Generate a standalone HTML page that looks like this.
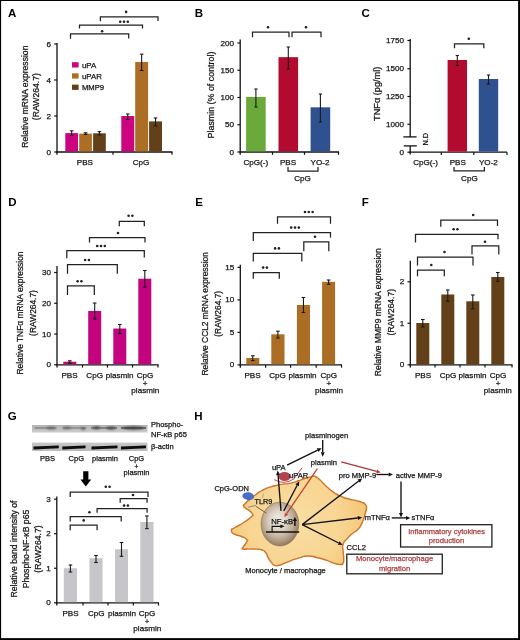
<!DOCTYPE html>
<html><head><meta charset="utf-8"><title>Figure</title>
<style>
html,body{margin:0;padding:0;background:#fff;}
svg{display:block;font-family:"Liberation Sans",sans-serif;will-change:transform;}
</style></head><body>
<svg width="520" height="640" viewBox="0 0 520 640">
<rect x="0" y="0" width="520" height="640" fill="#fff"/>
<text x="8.0" y="16.8" font-size="11.5" text-anchor="start" font-weight="bold" fill="#000" >A</text>
<line x1="57" y1="43" x2="57" y2="154.8" stroke="#111" stroke-width="1.3" />
<line x1="54.2" y1="152.0" x2="57" y2="152.0" stroke="#111" stroke-width="1.2" />
<text x="50.9" y="154.55" font-size="8.1" text-anchor="end" font-weight="normal" fill="#141414" stroke="#141414" stroke-width="0.25" >0</text>
<line x1="54.2" y1="116.0" x2="57" y2="116.0" stroke="#111" stroke-width="1.2" />
<text x="50.9" y="118.55" font-size="8.1" text-anchor="end" font-weight="normal" fill="#141414" stroke="#141414" stroke-width="0.25" >2</text>
<line x1="54.2" y1="80.0" x2="57" y2="80.0" stroke="#111" stroke-width="1.2" />
<text x="50.9" y="82.55" font-size="8.1" text-anchor="end" font-weight="normal" fill="#141414" stroke="#141414" stroke-width="0.25" >4</text>
<line x1="54.2" y1="44.0" x2="57" y2="44.0" stroke="#111" stroke-width="1.2" />
<text x="50.9" y="46.55" font-size="8.1" text-anchor="end" font-weight="normal" fill="#141414" stroke="#141414" stroke-width="0.25" >6</text>
<line x1="56.4" y1="152.0" x2="172.5" y2="152.0" stroke="#111" stroke-width="1.3" />
<line x1="113" y1="152.0" x2="113" y2="154.8" stroke="#111" stroke-width="1.2" />
<line x1="172" y1="152.0" x2="172" y2="154.8" stroke="#111" stroke-width="1.2" />
<text x="28.221999999999998" y="96.7" font-size="8.6" text-anchor="middle" font-weight="normal" fill="#141414" stroke="#141414" stroke-width="0.25" transform="rotate(-90 28.221999999999998 96.7)" >Relative mRNA expression</text>
<text x="39.422000000000004" y="96.7" font-size="8.6" text-anchor="middle" font-weight="normal" fill="#141414" stroke="#141414" stroke-width="0.25" transform="rotate(-90 39.422000000000004 96.7)" >(RAW264.7)</text>
<rect x="65.3" y="133.1" width="12.7" height="18.30000000000001" fill="#cd047f" />
<rect x="79.2" y="133.64" width="12.7" height="17.76000000000002" fill="#ac6e25" />
<rect x="93.1" y="133.28" width="12.7" height="18.120000000000005" fill="#644019" />
<rect x="121.3" y="116.0" width="12.9" height="35.400000000000006" fill="#cd047f" />
<rect x="135.2" y="62.0" width="12.9" height="89.4" fill="#ac6e25" />
<rect x="149.1" y="121.4" width="12.9" height="30.0" fill="#644019" />
<line x1="71.65" y1="130.8" x2="71.65" y2="135.5" stroke="#1a1a1a" stroke-width="1.1" />
<line x1="69.85000000000001" y1="130.8" x2="73.45" y2="130.8" stroke="#1a1a1a" stroke-width="1.1" />
<line x1="69.85000000000001" y1="135.5" x2="73.45" y2="135.5" stroke="#1a1a1a" stroke-width="1.1" />
<line x1="85.55" y1="132.8" x2="85.55" y2="134.4" stroke="#1a1a1a" stroke-width="1.1" />
<line x1="83.75" y1="132.8" x2="87.35" y2="132.8" stroke="#1a1a1a" stroke-width="1.1" />
<line x1="83.75" y1="134.4" x2="87.35" y2="134.4" stroke="#1a1a1a" stroke-width="1.1" />
<line x1="99.45" y1="131.6" x2="99.45" y2="134.9" stroke="#1a1a1a" stroke-width="1.1" />
<line x1="97.65" y1="131.6" x2="101.25" y2="131.6" stroke="#1a1a1a" stroke-width="1.1" />
<line x1="97.65" y1="134.9" x2="101.25" y2="134.9" stroke="#1a1a1a" stroke-width="1.1" />
<line x1="127.75" y1="114.0" x2="127.75" y2="119.5" stroke="#1a1a1a" stroke-width="1.1" />
<line x1="125.95" y1="114.0" x2="129.55" y2="114.0" stroke="#1a1a1a" stroke-width="1.1" />
<line x1="125.95" y1="119.5" x2="129.55" y2="119.5" stroke="#1a1a1a" stroke-width="1.1" />
<line x1="141.65" y1="54.2" x2="141.65" y2="70.5" stroke="#1a1a1a" stroke-width="1.1" />
<line x1="139.85" y1="54.2" x2="143.45000000000002" y2="54.2" stroke="#1a1a1a" stroke-width="1.1" />
<line x1="139.85" y1="70.5" x2="143.45000000000002" y2="70.5" stroke="#1a1a1a" stroke-width="1.1" />
<line x1="155.55" y1="118.0" x2="155.55" y2="126.0" stroke="#1a1a1a" stroke-width="1.1" />
<line x1="153.75" y1="118.0" x2="157.35000000000002" y2="118.0" stroke="#1a1a1a" stroke-width="1.1" />
<line x1="153.75" y1="126.0" x2="157.35000000000002" y2="126.0" stroke="#1a1a1a" stroke-width="1.1" />
<rect x="72.0" y="62.2" width="6.6" height="5.3" fill="#cd047f" />
<rect x="72.0" y="73.3" width="6.6" height="5.3" fill="#ac6e25" />
<rect x="72.0" y="84.6" width="6.6" height="5.3" fill="#644019" />
<text x="81.9" y="67.6" font-size="7.9" text-anchor="start" font-weight="normal" fill="#141414" stroke="#141414" stroke-width="0.25" >uPA</text>
<text x="81.9" y="78.7" font-size="7.9" text-anchor="start" font-weight="normal" fill="#141414" stroke="#141414" stroke-width="0.25" >uPAR</text>
<text x="81.9" y="89.9" font-size="7.7" text-anchor="start" font-weight="normal" fill="#141414" stroke="#141414" stroke-width="0.25" >MMP9</text>
<text x="84.9" y="165.4" font-size="8.1" text-anchor="middle" font-weight="normal" fill="#141414" stroke="#141414" stroke-width="0.25" >PBS</text>
<text x="141.0" y="165.4" font-size="8.1" text-anchor="middle" font-weight="normal" fill="#141414" stroke="#141414" stroke-width="0.25" >CpG</text>
<path d="M70.5 38.7V33.8H128.7V38.5" fill="none" stroke="#222" stroke-width="1.25"/>
<circle cx="102.10" cy="31.2" r="1.3" fill="#222"/>
<path d="M79.5 28.6V25.2H142.5V28.6" fill="none" stroke="#222" stroke-width="1.25"/>
<circle cx="120.20" cy="21.7" r="1.3" fill="#222"/>
<circle cx="124.00" cy="21.7" r="1.3" fill="#222"/>
<circle cx="127.80" cy="21.7" r="1.3" fill="#222"/>
<path d="M100.4 21.2V16.8H158.0V21.0" fill="none" stroke="#222" stroke-width="1.25"/>
<circle cx="126.10" cy="11.9" r="1.3" fill="#222"/>
<text x="194.8" y="16.8" font-size="11.5" text-anchor="start" font-weight="bold" fill="#000" >B</text>
<line x1="240.2" y1="39.5" x2="240.2" y2="154.8" stroke="#111" stroke-width="1.3" />
<line x1="237.39999999999998" y1="152.0" x2="240.2" y2="152.0" stroke="#111" stroke-width="1.2" />
<text x="234.1" y="154.55" font-size="8.1" text-anchor="end" font-weight="normal" fill="#141414" stroke="#141414" stroke-width="0.25" >0</text>
<line x1="237.39999999999998" y1="124.75" x2="240.2" y2="124.75" stroke="#111" stroke-width="1.2" />
<text x="234.1" y="127.3" font-size="8.1" text-anchor="end" font-weight="normal" fill="#141414" stroke="#141414" stroke-width="0.25" >50</text>
<line x1="237.39999999999998" y1="97.5" x2="240.2" y2="97.5" stroke="#111" stroke-width="1.2" />
<text x="234.1" y="100.05" font-size="8.1" text-anchor="end" font-weight="normal" fill="#141414" stroke="#141414" stroke-width="0.25" >100</text>
<line x1="237.39999999999998" y1="70.25" x2="240.2" y2="70.25" stroke="#111" stroke-width="1.2" />
<text x="234.1" y="72.8" font-size="8.1" text-anchor="end" font-weight="normal" fill="#141414" stroke="#141414" stroke-width="0.25" >150</text>
<line x1="237.39999999999998" y1="42.999999999999986" x2="240.2" y2="42.999999999999986" stroke="#111" stroke-width="1.2" />
<text x="234.1" y="45.54999999999998" font-size="8.1" text-anchor="end" font-weight="normal" fill="#141414" stroke="#141414" stroke-width="0.25" >200</text>
<line x1="239.6" y1="152.0" x2="339" y2="152.0" stroke="#111" stroke-width="1.3" />
<line x1="272.5" y1="152.0" x2="272.5" y2="154.8" stroke="#111" stroke-width="1.2" />
<line x1="304.5" y1="152.0" x2="304.5" y2="154.8" stroke="#111" stroke-width="1.2" />
<line x1="338.5" y1="152.0" x2="338.5" y2="154.8" stroke="#111" stroke-width="1.2" />
<text x="214.0" y="95.0" font-size="8.9" text-anchor="middle" font-weight="normal" fill="#141414" stroke="#141414" stroke-width="0.25" transform="rotate(-90 214.0 95.0)" >Plasmin (% of control)</text>
<rect x="246.1" y="96.955" width="19.6" height="54.44500000000001" fill="#6aaa3a" />
<rect x="278.5" y="57.16999999999999" width="19.6" height="94.23000000000002" fill="#b30a30" />
<rect x="310.6" y="107.31" width="19.6" height="44.09" fill="#2f5190" />
<line x1="255.9" y1="89.0" x2="255.9" y2="107.0" stroke="#1a1a1a" stroke-width="1.1" />
<line x1="254.3" y1="89.0" x2="257.5" y2="89.0" stroke="#1a1a1a" stroke-width="1.1" />
<line x1="254.3" y1="107.0" x2="257.5" y2="107.0" stroke="#1a1a1a" stroke-width="1.1" />
<line x1="288.3" y1="47.0" x2="288.3" y2="69.0" stroke="#1a1a1a" stroke-width="1.1" />
<line x1="286.7" y1="47.0" x2="289.90000000000003" y2="47.0" stroke="#1a1a1a" stroke-width="1.1" />
<line x1="286.7" y1="69.0" x2="289.90000000000003" y2="69.0" stroke="#1a1a1a" stroke-width="1.1" />
<line x1="320.4" y1="94.0" x2="320.4" y2="122.0" stroke="#1a1a1a" stroke-width="1.1" />
<line x1="318.79999999999995" y1="94.0" x2="322.0" y2="94.0" stroke="#1a1a1a" stroke-width="1.1" />
<line x1="318.79999999999995" y1="122.0" x2="322.0" y2="122.0" stroke="#1a1a1a" stroke-width="1.1" />
<path d="M252.5 37.3V32.0H289.0V37.3" fill="none" stroke="#222" stroke-width="1.25"/>
<circle cx="268.00" cy="27.2" r="1.3" fill="#222"/>
<path d="M292.0 37.3V32.0H321.0V37.3" fill="none" stroke="#222" stroke-width="1.25"/>
<circle cx="306.00" cy="27.2" r="1.3" fill="#222"/>
<text x="255.8" y="164.7" font-size="8.1" text-anchor="middle" font-weight="normal" fill="#141414" stroke="#141414" stroke-width="0.25" >CpG(-)</text>
<text x="288.0" y="164.7" font-size="8.1" text-anchor="middle" font-weight="normal" fill="#141414" stroke="#141414" stroke-width="0.25" >PBS</text>
<text x="320.0" y="164.7" font-size="8.1" text-anchor="middle" font-weight="normal" fill="#141414" stroke="#141414" stroke-width="0.25" >YO-2</text>
<path d="M288 167V171H318V167" fill="none" stroke="#222" stroke-width="1.25"/>
<text x="302.5" y="180.9" font-size="8.1" text-anchor="middle" font-weight="normal" fill="#141414" stroke="#141414" stroke-width="0.25" >CpG</text>
<text x="361.5" y="16.8" font-size="11.5" text-anchor="start" font-weight="bold" fill="#000" >C</text>
<line x1="410.2" y1="39.0" x2="410.2" y2="136.9" stroke="#111" stroke-width="1.3" />
<line x1="410.2" y1="145.9" x2="410.2" y2="154.5" stroke="#111" stroke-width="1.3" />
<line x1="403.4" y1="136.9" x2="416.5" y2="136.9" stroke="#111" stroke-width="1.3" />
<line x1="403.8" y1="145.9" x2="416.8" y2="145.9" stroke="#111" stroke-width="1.3" />
<line x1="407.4" y1="40.5" x2="410.2" y2="40.5" stroke="#111" stroke-width="1.2" />
<text x="404.1" y="43.0" font-size="8.1" text-anchor="end" font-weight="normal" fill="#141414" stroke="#141414" stroke-width="0.25" >1750</text>
<line x1="407.4" y1="68.75" x2="410.2" y2="68.75" stroke="#111" stroke-width="1.2" />
<text x="404.1" y="71.25" font-size="8.1" text-anchor="end" font-weight="normal" fill="#141414" stroke="#141414" stroke-width="0.25" >1500</text>
<line x1="407.4" y1="96.5" x2="410.2" y2="96.5" stroke="#111" stroke-width="1.2" />
<text x="404.1" y="99.0" font-size="8.1" text-anchor="end" font-weight="normal" fill="#141414" stroke="#141414" stroke-width="0.25" >1250</text>
<line x1="407.4" y1="124.25" x2="410.2" y2="124.25" stroke="#111" stroke-width="1.2" />
<text x="404.1" y="126.75" font-size="8.1" text-anchor="end" font-weight="normal" fill="#141414" stroke="#141414" stroke-width="0.25" >1000</text>
<line x1="407.4" y1="152.2" x2="410.2" y2="152.2" stroke="#111" stroke-width="1.2" />
<text x="404.1" y="154.7" font-size="8.1" text-anchor="end" font-weight="normal" fill="#141414" stroke="#141414" stroke-width="0.25" >0</text>
<line x1="409.59999999999997" y1="152.2" x2="507" y2="152.2" stroke="#111" stroke-width="1.3" />
<line x1="441.3" y1="152.2" x2="441.3" y2="155.0" stroke="#111" stroke-width="1.2" />
<line x1="473.8" y1="152.2" x2="473.8" y2="155.0" stroke="#111" stroke-width="1.2" />
<line x1="507" y1="152.2" x2="507" y2="155.0" stroke="#111" stroke-width="1.2" />
<text x="380.1" y="93.8" font-size="9.2" text-anchor="middle" font-weight="normal" fill="#141414" stroke="#141414" stroke-width="0.25" transform="rotate(-90 380.1 93.8)" >TNFα (pg/ml)</text>
<text x="428.0" y="139.3" font-size="7.3" text-anchor="middle" font-weight="normal" fill="#141414" stroke="#141414" stroke-width="0.25" transform="rotate(-90 428.0 139.3)" >N.D</text>
<rect x="447.6" y="60.0" width="19.4" height="91.6" fill="#b30a30" />
<rect x="478.8" y="79.0" width="19.4" height="72.6" fill="#2f5190" />
<line x1="457.3" y1="55.5" x2="457.3" y2="65.5" stroke="#1a1a1a" stroke-width="1.1" />
<line x1="455.7" y1="55.5" x2="458.90000000000003" y2="55.5" stroke="#1a1a1a" stroke-width="1.1" />
<line x1="455.7" y1="65.5" x2="458.90000000000003" y2="65.5" stroke="#1a1a1a" stroke-width="1.1" />
<line x1="488.5" y1="75.0" x2="488.5" y2="84.0" stroke="#1a1a1a" stroke-width="1.1" />
<line x1="486.9" y1="75.0" x2="490.1" y2="75.0" stroke="#1a1a1a" stroke-width="1.1" />
<line x1="486.9" y1="84.0" x2="490.1" y2="84.0" stroke="#1a1a1a" stroke-width="1.1" />
<path d="M454.5 48.2V43.8H483.8V48.2" fill="none" stroke="#222" stroke-width="1.25"/>
<circle cx="468.80" cy="38.8" r="1.3" fill="#222"/>
<text x="425.6" y="164.9" font-size="8.1" text-anchor="middle" font-weight="normal" fill="#141414" stroke="#141414" stroke-width="0.25" >CpG(-)</text>
<text x="457.8" y="164.9" font-size="8.1" text-anchor="middle" font-weight="normal" fill="#141414" stroke="#141414" stroke-width="0.25" >PBS</text>
<text x="488.4" y="164.9" font-size="8.1" text-anchor="middle" font-weight="normal" fill="#141414" stroke="#141414" stroke-width="0.25" >YO-2</text>
<path d="M454 167V170.8H484.4V167" fill="none" stroke="#222" stroke-width="1.25"/>
<text x="469.4" y="180.9" font-size="8.1" text-anchor="middle" font-weight="normal" fill="#141414" stroke="#141414" stroke-width="0.25" >CpG</text>
<text x="8.3" y="205.8" font-size="11.5" text-anchor="start" font-weight="bold" fill="#000" >D</text>
<line x1="57" y1="266.0" x2="57" y2="367.6" stroke="#111" stroke-width="1.3" />
<line x1="54.2" y1="364.8" x2="57" y2="364.8" stroke="#111" stroke-width="1.2" />
<text x="50.9" y="367.35" font-size="8.1" text-anchor="end" font-weight="normal" fill="#141414" stroke="#141414" stroke-width="0.25" >0</text>
<line x1="54.2" y1="334.05" x2="57" y2="334.05" stroke="#111" stroke-width="1.2" />
<text x="50.9" y="336.6" font-size="8.1" text-anchor="end" font-weight="normal" fill="#141414" stroke="#141414" stroke-width="0.25" >10</text>
<line x1="54.2" y1="303.3" x2="57" y2="303.3" stroke="#111" stroke-width="1.2" />
<text x="50.9" y="305.85" font-size="8.1" text-anchor="end" font-weight="normal" fill="#141414" stroke="#141414" stroke-width="0.25" >20</text>
<line x1="54.2" y1="272.55" x2="57" y2="272.55" stroke="#111" stroke-width="1.2" />
<text x="50.9" y="275.1" font-size="8.1" text-anchor="end" font-weight="normal" fill="#141414" stroke="#141414" stroke-width="0.25" >30</text>
<line x1="56.4" y1="364.8" x2="158.5" y2="364.8" stroke="#111" stroke-width="1.3" />
<line x1="82.5" y1="364.8" x2="82.5" y2="367.6" stroke="#111" stroke-width="1.2" />
<line x1="107.5" y1="364.8" x2="107.5" y2="367.6" stroke="#111" stroke-width="1.2" />
<line x1="132.5" y1="364.8" x2="132.5" y2="367.6" stroke="#111" stroke-width="1.2" />
<line x1="158" y1="364.8" x2="158" y2="367.6" stroke="#111" stroke-width="1.2" />
<text x="23.168" y="313.0" font-size="8.4" text-anchor="middle" font-weight="normal" fill="#141414" stroke="#141414" stroke-width="0.25" transform="rotate(-90 23.168 313.0)" >Relative TNFα mRNA expression</text>
<text x="35.868" y="313.0" font-size="8.4" text-anchor="middle" font-weight="normal" fill="#141414" stroke="#141414" stroke-width="0.25" transform="rotate(-90 35.868 313.0)" >(RAW264.7)</text>
<rect x="63.3" y="361.725" width="13.0" height="2.474999999999966" fill="#c4037e" />
<rect x="88.2" y="310.9875" width="13.0" height="53.21249999999998" fill="#c4037e" />
<rect x="113.3" y="328.515" width="13.0" height="35.685" fill="#c4037e" />
<rect x="138.3" y="278.7" width="13.0" height="85.5" fill="#c4037e" />
<line x1="69.8" y1="360.8" x2="69.8" y2="363.2" stroke="#1a1a1a" stroke-width="1.1" />
<line x1="68.0" y1="360.8" x2="71.6" y2="360.8" stroke="#1a1a1a" stroke-width="1.1" />
<line x1="68.0" y1="363.2" x2="71.6" y2="363.2" stroke="#1a1a1a" stroke-width="1.1" />
<line x1="94.7" y1="303.0" x2="94.7" y2="319.0" stroke="#1a1a1a" stroke-width="1.1" />
<line x1="92.9" y1="303.0" x2="96.5" y2="303.0" stroke="#1a1a1a" stroke-width="1.1" />
<line x1="92.9" y1="319.0" x2="96.5" y2="319.0" stroke="#1a1a1a" stroke-width="1.1" />
<line x1="119.8" y1="324.5" x2="119.8" y2="333.5" stroke="#1a1a1a" stroke-width="1.1" />
<line x1="118.0" y1="324.5" x2="121.6" y2="324.5" stroke="#1a1a1a" stroke-width="1.1" />
<line x1="118.0" y1="333.5" x2="121.6" y2="333.5" stroke="#1a1a1a" stroke-width="1.1" />
<line x1="144.8" y1="270.5" x2="144.8" y2="287.0" stroke="#1a1a1a" stroke-width="1.1" />
<line x1="143.0" y1="270.5" x2="146.60000000000002" y2="270.5" stroke="#1a1a1a" stroke-width="1.1" />
<line x1="143.0" y1="287.0" x2="146.60000000000002" y2="287.0" stroke="#1a1a1a" stroke-width="1.1" />
<text x="69.5" y="377.8" font-size="8.1" text-anchor="middle" font-weight="normal" fill="#141414" stroke="#141414" stroke-width="0.25" >PBS</text>
<text x="94.7" y="377.8" font-size="8.1" text-anchor="middle" font-weight="normal" fill="#141414" stroke="#141414" stroke-width="0.25" >CpG</text>
<text x="119.6" y="377.8" font-size="8.1" text-anchor="middle" font-weight="normal" fill="#141414" stroke="#141414" stroke-width="0.25" >plasmin</text>
<text x="145.0" y="377.8" font-size="8.1" text-anchor="middle" font-weight="normal" fill="#141414" stroke="#141414" stroke-width="0.25" >CpG</text>
<text x="145.0" y="386.4" font-size="8.1" text-anchor="middle" font-weight="normal" fill="#141414" stroke="#141414" stroke-width="0.25" >+</text>
<text x="145.3" y="392.8" font-size="8.1" text-anchor="middle" font-weight="normal" fill="#141414" stroke="#141414" stroke-width="0.25" >plasmin</text>
<path d="M67.5 295.0V285.8H94.3V295.0" fill="none" stroke="#222" stroke-width="1.25"/>
<circle cx="77.60" cy="281.2" r="1.3" fill="#222"/>
<circle cx="81.40" cy="281.2" r="1.3" fill="#222"/>
<path d="M67.5 273.8V264.5H117.3V273.8" fill="none" stroke="#222" stroke-width="1.25"/>
<circle cx="85.10" cy="260.0" r="1.3" fill="#222"/>
<circle cx="88.90" cy="260.0" r="1.3" fill="#222"/>
<path d="M66.8 258.2V250.5H144.3V257.6" fill="none" stroke="#222" stroke-width="1.25"/>
<circle cx="97.20" cy="246.0" r="1.3" fill="#222"/>
<circle cx="101.00" cy="246.0" r="1.3" fill="#222"/>
<circle cx="104.80" cy="246.0" r="1.3" fill="#222"/>
<path d="M89.5 242.6V237.5H145.0V242.6" fill="none" stroke="#222" stroke-width="1.25"/>
<circle cx="118.00" cy="233.0" r="1.3" fill="#222"/>
<path d="M119.3 226.3V221.3H144.3V226.3" fill="none" stroke="#222" stroke-width="1.25"/>
<circle cx="128.60" cy="215.8" r="1.3" fill="#222"/>
<circle cx="132.40" cy="215.8" r="1.3" fill="#222"/>
<text x="195.2" y="205.7" font-size="11.5" text-anchor="start" font-weight="bold" fill="#000" >E</text>
<line x1="240.3" y1="264.8" x2="240.3" y2="367.7" stroke="#111" stroke-width="1.3" />
<line x1="237.5" y1="364.9" x2="240.3" y2="364.9" stroke="#111" stroke-width="1.2" />
<text x="234.20000000000002" y="367.45" font-size="8.1" text-anchor="end" font-weight="normal" fill="#141414" stroke="#141414" stroke-width="0.25" >0</text>
<line x1="237.5" y1="332.4" x2="240.3" y2="332.4" stroke="#111" stroke-width="1.2" />
<text x="234.20000000000002" y="334.95" font-size="8.1" text-anchor="end" font-weight="normal" fill="#141414" stroke="#141414" stroke-width="0.25" >5</text>
<line x1="237.5" y1="299.9" x2="240.3" y2="299.9" stroke="#111" stroke-width="1.2" />
<text x="234.20000000000002" y="302.45" font-size="8.1" text-anchor="end" font-weight="normal" fill="#141414" stroke="#141414" stroke-width="0.25" >10</text>
<line x1="237.5" y1="267.4" x2="240.3" y2="267.4" stroke="#111" stroke-width="1.2" />
<text x="234.20000000000002" y="269.95" font-size="8.1" text-anchor="end" font-weight="normal" fill="#141414" stroke="#141414" stroke-width="0.25" >15</text>
<line x1="239.70000000000002" y1="364.9" x2="342" y2="364.9" stroke="#111" stroke-width="1.3" />
<line x1="265.6" y1="364.9" x2="265.6" y2="367.7" stroke="#111" stroke-width="1.2" />
<line x1="290.6" y1="364.9" x2="290.6" y2="367.7" stroke="#111" stroke-width="1.2" />
<line x1="316.2" y1="364.9" x2="316.2" y2="367.7" stroke="#111" stroke-width="1.2" />
<line x1="341.5" y1="364.9" x2="341.5" y2="367.7" stroke="#111" stroke-width="1.2" />
<text x="207.568" y="313.8" font-size="8.4" text-anchor="middle" font-weight="normal" fill="#141414" stroke="#141414" stroke-width="0.25" transform="rotate(-90 207.568 313.8)" >Relative CCL2 mRNA expression</text>
<text x="220.668" y="313.8" font-size="8.4" text-anchor="middle" font-weight="normal" fill="#141414" stroke="#141414" stroke-width="0.25" transform="rotate(-90 220.668 313.8)" >(RAW264.7)</text>
<rect x="246.3" y="358.0" width="13.0" height="6.2999999999999545" fill="#ac6e25" />
<rect x="271.3" y="334.3" width="13.2" height="29.999999999999943" fill="#ac6e25" />
<rect x="296.9" y="305.0" width="13.1" height="59.299999999999955" fill="#ac6e25" />
<rect x="322.1" y="281.8" width="13.0" height="82.49999999999994" fill="#ac6e25" />
<line x1="252.8" y1="355.8" x2="252.8" y2="360.6" stroke="#1a1a1a" stroke-width="1.1" />
<line x1="251.0" y1="355.8" x2="254.60000000000002" y2="355.8" stroke="#1a1a1a" stroke-width="1.1" />
<line x1="251.0" y1="360.6" x2="254.60000000000002" y2="360.6" stroke="#1a1a1a" stroke-width="1.1" />
<line x1="277.9" y1="331.2" x2="277.9" y2="338.0" stroke="#1a1a1a" stroke-width="1.1" />
<line x1="276.09999999999997" y1="331.2" x2="279.7" y2="331.2" stroke="#1a1a1a" stroke-width="1.1" />
<line x1="276.09999999999997" y1="338.0" x2="279.7" y2="338.0" stroke="#1a1a1a" stroke-width="1.1" />
<line x1="303.45" y1="297.5" x2="303.45" y2="312.5" stroke="#1a1a1a" stroke-width="1.1" />
<line x1="301.65" y1="297.5" x2="305.25" y2="297.5" stroke="#1a1a1a" stroke-width="1.1" />
<line x1="301.65" y1="312.5" x2="305.25" y2="312.5" stroke="#1a1a1a" stroke-width="1.1" />
<line x1="328.6" y1="280.0" x2="328.6" y2="284.3" stroke="#1a1a1a" stroke-width="1.1" />
<line x1="326.8" y1="280.0" x2="330.40000000000003" y2="280.0" stroke="#1a1a1a" stroke-width="1.1" />
<line x1="326.8" y1="284.3" x2="330.40000000000003" y2="284.3" stroke="#1a1a1a" stroke-width="1.1" />
<text x="252.5" y="377.8" font-size="8.1" text-anchor="middle" font-weight="normal" fill="#141414" stroke="#141414" stroke-width="0.25" >PBS</text>
<text x="277.5" y="377.8" font-size="8.1" text-anchor="middle" font-weight="normal" fill="#141414" stroke="#141414" stroke-width="0.25" >CpG</text>
<text x="302.5" y="377.8" font-size="8.1" text-anchor="middle" font-weight="normal" fill="#141414" stroke="#141414" stroke-width="0.25" >plasmin</text>
<text x="328.8" y="377.8" font-size="8.1" text-anchor="middle" font-weight="normal" fill="#141414" stroke="#141414" stroke-width="0.25" >CpG</text>
<text x="328.8" y="386.4" font-size="8.1" text-anchor="middle" font-weight="normal" fill="#141414" stroke="#141414" stroke-width="0.25" >+</text>
<text x="329.0" y="392.8" font-size="8.1" text-anchor="middle" font-weight="normal" fill="#141414" stroke="#141414" stroke-width="0.25" >plasmin</text>
<path d="M253.3 278.8V272.5H279.3V278.8" fill="none" stroke="#222" stroke-width="1.25"/>
<circle cx="263.10" cy="267.6" r="1.3" fill="#222"/>
<circle cx="266.90" cy="267.6" r="1.3" fill="#222"/>
<path d="M253.3 261.5V253.3H301.8V261.5" fill="none" stroke="#222" stroke-width="1.25"/>
<circle cx="275.10" cy="248.4" r="1.3" fill="#222"/>
<circle cx="278.90" cy="248.4" r="1.3" fill="#222"/>
<path d="M253.3 241.0V232.5H330.5V237.6" fill="none" stroke="#222" stroke-width="1.25"/>
<circle cx="291.20" cy="227.6" r="1.3" fill="#222"/>
<circle cx="295.00" cy="227.6" r="1.3" fill="#222"/>
<circle cx="298.80" cy="227.6" r="1.3" fill="#222"/>
<path d="M277.5 223.8V216.8H330.5V223.8" fill="none" stroke="#222" stroke-width="1.25"/>
<circle cx="305.00" cy="212.0" r="1.3" fill="#222"/>
<circle cx="308.80" cy="212.0" r="1.3" fill="#222"/>
<circle cx="312.60" cy="212.0" r="1.3" fill="#222"/>
<path d="M303.8 251.3V241.8H328.8V251.3" fill="none" stroke="#222" stroke-width="1.25"/>
<circle cx="315.00" cy="236.8" r="1.3" fill="#222"/>
<text x="361.7" y="205.6" font-size="11.5" text-anchor="start" font-weight="bold" fill="#000" >F</text>
<line x1="410.3" y1="260.8" x2="410.3" y2="367.6" stroke="#111" stroke-width="1.3" />
<line x1="407.5" y1="364.8" x2="410.3" y2="364.8" stroke="#111" stroke-width="1.2" />
<text x="404.2" y="367.35" font-size="8.1" text-anchor="end" font-weight="normal" fill="#141414" stroke="#141414" stroke-width="0.25" >0</text>
<line x1="407.5" y1="323.3" x2="410.3" y2="323.3" stroke="#111" stroke-width="1.2" />
<text x="404.2" y="325.85" font-size="8.1" text-anchor="end" font-weight="normal" fill="#141414" stroke="#141414" stroke-width="0.25" >1</text>
<line x1="407.5" y1="281.8" x2="410.3" y2="281.8" stroke="#111" stroke-width="1.2" />
<text x="404.2" y="284.35" font-size="8.1" text-anchor="end" font-weight="normal" fill="#141414" stroke="#141414" stroke-width="0.25" >2</text>
<line x1="409.7" y1="364.8" x2="512.5" y2="364.8" stroke="#111" stroke-width="1.3" />
<line x1="435" y1="364.8" x2="435" y2="367.6" stroke="#111" stroke-width="1.2" />
<line x1="460" y1="364.8" x2="460" y2="367.6" stroke="#111" stroke-width="1.2" />
<line x1="485" y1="364.8" x2="485" y2="367.6" stroke="#111" stroke-width="1.2" />
<line x1="512" y1="364.8" x2="512" y2="367.6" stroke="#111" stroke-width="1.2" />
<text x="381.495" y="312.2" font-size="8.5" text-anchor="middle" font-weight="normal" fill="#141414" stroke="#141414" stroke-width="0.25" transform="rotate(-90 381.495 312.2)" >Relative MMP9 mRNA expression</text>
<text x="393.995" y="312.2" font-size="8.5" text-anchor="middle" font-weight="normal" fill="#141414" stroke="#141414" stroke-width="0.25" transform="rotate(-90 393.995 312.2)" >(RAW264.7)</text>
<rect x="416.3" y="323.0" width="13.0" height="41.19999999999999" fill="#644019" />
<rect x="441.3" y="294.5" width="13.0" height="69.69999999999999" fill="#644019" />
<rect x="466.3" y="301.3" width="13.0" height="62.89999999999998" fill="#644019" />
<rect x="491.3" y="277.0" width="13.0" height="87.19999999999999" fill="#644019" />
<line x1="422.8" y1="319.5" x2="422.8" y2="327.0" stroke="#1a1a1a" stroke-width="1.1" />
<line x1="421.0" y1="319.5" x2="424.6" y2="319.5" stroke="#1a1a1a" stroke-width="1.1" />
<line x1="421.0" y1="327.0" x2="424.6" y2="327.0" stroke="#1a1a1a" stroke-width="1.1" />
<line x1="447.8" y1="290.0" x2="447.8" y2="301.3" stroke="#1a1a1a" stroke-width="1.1" />
<line x1="446.0" y1="290.0" x2="449.6" y2="290.0" stroke="#1a1a1a" stroke-width="1.1" />
<line x1="446.0" y1="301.3" x2="449.6" y2="301.3" stroke="#1a1a1a" stroke-width="1.1" />
<line x1="472.8" y1="295.0" x2="472.8" y2="308.8" stroke="#1a1a1a" stroke-width="1.1" />
<line x1="471.0" y1="295.0" x2="474.6" y2="295.0" stroke="#1a1a1a" stroke-width="1.1" />
<line x1="471.0" y1="308.8" x2="474.6" y2="308.8" stroke="#1a1a1a" stroke-width="1.1" />
<line x1="497.8" y1="272.5" x2="497.8" y2="281.3" stroke="#1a1a1a" stroke-width="1.1" />
<line x1="496.0" y1="272.5" x2="499.6" y2="272.5" stroke="#1a1a1a" stroke-width="1.1" />
<line x1="496.0" y1="281.3" x2="499.6" y2="281.3" stroke="#1a1a1a" stroke-width="1.1" />
<text x="423.0" y="377.8" font-size="8.1" text-anchor="middle" font-weight="normal" fill="#141414" stroke="#141414" stroke-width="0.25" >PBS</text>
<text x="448.0" y="377.8" font-size="8.1" text-anchor="middle" font-weight="normal" fill="#141414" stroke="#141414" stroke-width="0.25" >CpG</text>
<text x="472.5" y="377.8" font-size="8.1" text-anchor="middle" font-weight="normal" fill="#141414" stroke="#141414" stroke-width="0.25" >plasmin</text>
<text x="498.0" y="377.8" font-size="8.1" text-anchor="middle" font-weight="normal" fill="#141414" stroke="#141414" stroke-width="0.25" >CpG</text>
<text x="498.0" y="386.4" font-size="8.1" text-anchor="middle" font-weight="normal" fill="#141414" stroke="#141414" stroke-width="0.25" >+</text>
<text x="497.8" y="392.8" font-size="8.1" text-anchor="middle" font-weight="normal" fill="#141414" stroke="#141414" stroke-width="0.25" >plasmin</text>
<path d="M417.5 276.3V270.0H444.3V276.3" fill="none" stroke="#222" stroke-width="1.25"/>
<circle cx="431.30" cy="265.0" r="1.3" fill="#222"/>
<path d="M417.5 265.5V257.0H473.0V265.5" fill="none" stroke="#222" stroke-width="1.25"/>
<circle cx="444.50" cy="252.0" r="1.3" fill="#222"/>
<path d="M415.5 242.5V234.3H498.0V239.3" fill="none" stroke="#222" stroke-width="1.25"/>
<circle cx="453.60" cy="229.2" r="1.3" fill="#222"/>
<circle cx="457.40" cy="229.2" r="1.3" fill="#222"/>
<path d="M440.8 226.8V220.0H497.5V226.0" fill="none" stroke="#222" stroke-width="1.25"/>
<circle cx="473.20" cy="215.0" r="1.3" fill="#222"/>
<path d="M472.0 254.5V245.8H498.8V254.5" fill="none" stroke="#222" stroke-width="1.25"/>
<circle cx="485.00" cy="241.8" r="1.3" fill="#222"/>
<text x="7.7" y="420.4" font-size="11.5" text-anchor="start" font-weight="bold" fill="#000" >G</text>
<defs>
<linearGradient id="blot1" x1="0" y1="0" x2="0" y2="1">
<stop offset="0" stop-color="#b4b4b4"/><stop offset="0.7" stop-color="#c4c4c4"/><stop offset="1" stop-color="#d0d0d0"/></linearGradient>
<linearGradient id="blot2" x1="0" y1="0" x2="0" y2="1">
<stop offset="0" stop-color="#c6c6c6"/><stop offset="1" stop-color="#bcbcbc"/></linearGradient>
<filter id="bl" x="-10%" y="-50%" width="120%" height="200%"><feGaussianBlur stdDeviation="0.6"/></filter>
<filter id="bl2" x="-20%" y="-100%" width="140%" height="300%"><feGaussianBlur stdDeviation="0.9"/></filter>
<radialGradient id="cellg" gradientUnits="userSpaceOnUse" cx="295" cy="522" r="75">
<stop offset="0" stop-color="#f9dea4"/><stop offset="0.6" stop-color="#f8d592"/><stop offset="1" stop-color="#f4c674"/></radialGradient>
<radialGradient id="nuc" cx="0.47" cy="0.44" r="0.6" fx="0.45" fy="0.4">
<stop offset="0" stop-color="#f2ede6"/><stop offset="0.35" stop-color="#e0d6ca"/><stop offset="0.65" stop-color="#c2af99"/><stop offset="0.88" stop-color="#9c856b"/><stop offset="1" stop-color="#7d6650"/></radialGradient>
</defs>
<rect x="32.0" y="425.0" width="115.5" height="7.6" fill="url(#blot1)" />
<rect x="32.0" y="442.6" width="115.5" height="8.4" fill="url(#blot2)" />
<g filter="url(#bl)">
<path d="M34.5 428.4 Q45.5 427.8 56.5 428.2" stroke="#8a8a8a" stroke-width="3.0" fill="none" opacity="0.8"/>
<path d="M62.5 428.4 Q74.25 427.8 86 428.2" stroke="#8a8a8a" stroke-width="3.0" fill="none" opacity="0.75"/>
<path d="M91 428.4 Q104.0 427.8 117 428.2" stroke="#7a7a7a" stroke-width="3.0" fill="none" opacity="0.85"/>
<path d="M121 428.4 Q133.5 427.8 146 428.2" stroke="#666" stroke-width="3.0" fill="none" opacity="0.9"/>
</g><g filter="url(#bl2)">
<ellipse cx="51" cy="428.0" rx="4.5" ry="1.3" fill="#666"/>
<ellipse cx="67" cy="427.9" rx="3.8" ry="1.2" fill="#666"/>
<ellipse cx="83.2" cy="428.6" rx="2.4" ry="1.2" fill="#555"/>
<ellipse cx="96.5" cy="427.8" rx="3.6" ry="1.4" fill="#4a4a4a"/>
<ellipse cx="111" cy="428.1" rx="4.6" ry="1.4" fill="#444"/>
<ellipse cx="133.5" cy="428.0" rx="11" ry="1.5" fill="#3a3a3a"/>
</g><g filter="url(#bl)">
<path d="M33.5 446.6 L58.8 445.6 L58.8 448.2 L33.5 449.6 Z" fill="#0c0c0c"/>
<path d="M62.3 446.6 L85.5 445.6 L85.5 448.2 L62.3 449.6 Z" fill="#0c0c0c"/>
<path d="M91.5 446.6 L117.5 445.6 L117.5 448.2 L91.5 449.6 Z" fill="#0c0c0c"/>
<path d="M121 446.6 L146 445.6 L146 448.2 L121 449.6 Z" fill="#0c0c0c"/>
</g>
<text x="151.0" y="427.2" font-size="7.5" text-anchor="start" font-weight="normal" fill="#141414" stroke="#141414" stroke-width="0.25" >Phospho-</text>
<text x="151.0" y="436.8" font-size="7.5" text-anchor="start" font-weight="normal" fill="#141414" stroke="#141414" stroke-width="0.25" >NF-κB p65</text>
<text x="151.0" y="448.8" font-size="7.5" text-anchor="start" font-weight="normal" fill="#141414" stroke="#141414" stroke-width="0.25" >β-actin</text>
<text x="47.5" y="461.0" font-size="7.5" text-anchor="middle" font-weight="normal" fill="#141414" stroke="#141414" stroke-width="0.25" >PBS</text>
<text x="76.3" y="461.0" font-size="7.5" text-anchor="middle" font-weight="normal" fill="#141414" stroke="#141414" stroke-width="0.25" >CpG</text>
<text x="105.0" y="461.0" font-size="7.5" text-anchor="middle" font-weight="normal" fill="#141414" stroke="#141414" stroke-width="0.25" >plasmin</text>
<text x="136.5" y="461.0" font-size="7.5" text-anchor="middle" font-weight="normal" fill="#141414" stroke="#141414" stroke-width="0.25" >CpG</text>
<text x="136.5" y="469.2" font-size="6.5" text-anchor="middle" font-weight="normal" fill="#141414" stroke="#141414" stroke-width="0.25" >+</text>
<text x="136.5" y="475.4" font-size="7.5" text-anchor="middle" font-weight="normal" fill="#141414" stroke="#141414" stroke-width="0.25" >plasmin</text>
<path d="M83.2 471.2H88.4V479.6H91.2L85.8 486.4L80.4 479.6H83.2Z" fill="#000"/>
<line x1="56.8" y1="496.4" x2="56.8" y2="605.5999999999999" stroke="#111" stroke-width="1.3" />
<line x1="54.0" y1="602.8" x2="56.8" y2="602.8" stroke="#111" stroke-width="1.2" />
<text x="50.699999999999996" y="605.3499999999999" font-size="8.1" text-anchor="end" font-weight="normal" fill="#141414" stroke="#141414" stroke-width="0.25" >0</text>
<line x1="54.0" y1="568.25" x2="56.8" y2="568.25" stroke="#111" stroke-width="1.2" />
<text x="50.699999999999996" y="570.8" font-size="8.1" text-anchor="end" font-weight="normal" fill="#141414" stroke="#141414" stroke-width="0.25" >1</text>
<line x1="54.0" y1="533.6999999999999" x2="56.8" y2="533.6999999999999" stroke="#111" stroke-width="1.2" />
<text x="50.699999999999996" y="536.2499999999999" font-size="8.1" text-anchor="end" font-weight="normal" fill="#141414" stroke="#141414" stroke-width="0.25" >2</text>
<line x1="54.0" y1="499.15" x2="56.8" y2="499.15" stroke="#111" stroke-width="1.2" />
<text x="50.699999999999996" y="501.7" font-size="8.1" text-anchor="end" font-weight="normal" fill="#141414" stroke="#141414" stroke-width="0.25" >3</text>
<line x1="56.199999999999996" y1="602.8" x2="159" y2="602.8" stroke="#111" stroke-width="1.3" />
<line x1="83" y1="602.8" x2="83" y2="605.5999999999999" stroke="#111" stroke-width="1.2" />
<line x1="108" y1="602.8" x2="108" y2="605.5999999999999" stroke="#111" stroke-width="1.2" />
<line x1="133.3" y1="602.8" x2="133.3" y2="605.5999999999999" stroke="#111" stroke-width="1.2" />
<line x1="158.5" y1="602.8" x2="158.5" y2="605.5999999999999" stroke="#111" stroke-width="1.2" />
<text x="16.549" y="549.0" font-size="8.7" text-anchor="middle" font-weight="normal" fill="#141414" stroke="#141414" stroke-width="0.25" transform="rotate(-90 16.549 549.0)" >Relative band intensity of</text>
<text x="29.049" y="549.0" font-size="8.7" text-anchor="middle" font-weight="normal" fill="#141414" stroke="#141414" stroke-width="0.25" transform="rotate(-90 29.049 549.0)" >Phospho-NF-κB p65</text>
<text x="40.648999999999994" y="549.0" font-size="8.7" text-anchor="middle" font-weight="normal" fill="#141414" stroke="#141414" stroke-width="0.25" transform="rotate(-90 40.648999999999994 549.0)" >(RAW264.7)</text>
<rect x="63.8" y="568.25" width="13.2" height="33.94999999999993" fill="#c6c6ca" />
<rect x="89.5" y="558.2305" width="13.0" height="43.969499999999925" fill="#c6c6ca" />
<rect x="115.0" y="549.2475" width="13.0" height="52.952499999999986" fill="#c6c6ca" />
<rect x="140.3" y="521.953" width="13.2" height="80.24699999999996" fill="#c6c6ca" />
<line x1="70.4" y1="565.0" x2="70.4" y2="572.0" stroke="#1a1a1a" stroke-width="1.1" />
<line x1="68.60000000000001" y1="565.0" x2="72.2" y2="565.0" stroke="#1a1a1a" stroke-width="1.1" />
<line x1="68.60000000000001" y1="572.0" x2="72.2" y2="572.0" stroke="#1a1a1a" stroke-width="1.1" />
<line x1="96.0" y1="555.5" x2="96.0" y2="562.5" stroke="#1a1a1a" stroke-width="1.1" />
<line x1="94.2" y1="555.5" x2="97.8" y2="555.5" stroke="#1a1a1a" stroke-width="1.1" />
<line x1="94.2" y1="562.5" x2="97.8" y2="562.5" stroke="#1a1a1a" stroke-width="1.1" />
<line x1="121.5" y1="542.5" x2="121.5" y2="556.3" stroke="#1a1a1a" stroke-width="1.1" />
<line x1="119.7" y1="542.5" x2="123.3" y2="542.5" stroke="#1a1a1a" stroke-width="1.1" />
<line x1="119.7" y1="556.3" x2="123.3" y2="556.3" stroke="#1a1a1a" stroke-width="1.1" />
<line x1="146.9" y1="516.0" x2="146.9" y2="528.6" stroke="#1a1a1a" stroke-width="1.1" />
<line x1="145.1" y1="516.0" x2="148.70000000000002" y2="516.0" stroke="#1a1a1a" stroke-width="1.1" />
<line x1="145.1" y1="528.6" x2="148.70000000000002" y2="528.6" stroke="#1a1a1a" stroke-width="1.1" />
<text x="70.5" y="615.5" font-size="8.1" text-anchor="middle" font-weight="normal" fill="#141414" stroke="#141414" stroke-width="0.25" >PBS</text>
<text x="96.3" y="615.5" font-size="8.1" text-anchor="middle" font-weight="normal" fill="#141414" stroke="#141414" stroke-width="0.25" >CpG</text>
<text x="122.0" y="615.5" font-size="8.1" text-anchor="middle" font-weight="normal" fill="#141414" stroke="#141414" stroke-width="0.25" >plasmin</text>
<text x="147.0" y="615.5" font-size="8.1" text-anchor="middle" font-weight="normal" fill="#141414" stroke="#141414" stroke-width="0.25" >CpG</text>
<text x="147.0" y="623.9" font-size="7.0" text-anchor="middle" font-weight="normal" fill="#141414" stroke="#141414" stroke-width="0.25" >+</text>
<text x="147.3" y="630.6" font-size="8.1" text-anchor="middle" font-weight="normal" fill="#141414" stroke="#141414" stroke-width="0.25" >plasmin</text>
<path d="M70.2 497.0V492.1H148.0V497.0" fill="none" stroke="#222" stroke-width="1.25"/>
<circle cx="105.80" cy="486.8" r="1.3" fill="#222"/>
<circle cx="109.60" cy="486.8" r="1.3" fill="#222"/>
<path d="M120.2 502.7V498.5H147.1V502.7" fill="none" stroke="#222" stroke-width="1.25"/>
<circle cx="133.00" cy="495.0" r="1.3" fill="#222"/>
<path d="M97.1 512.7V508.5H147.1V512.7" fill="none" stroke="#222" stroke-width="1.25"/>
<circle cx="124.10" cy="505.6" r="1.3" fill="#222"/>
<circle cx="127.90" cy="505.6" r="1.3" fill="#222"/>
<path d="M70.2 521.5V516.5H121.2V521.5" fill="none" stroke="#222" stroke-width="1.25"/>
<circle cx="89.40" cy="512.3" r="1.3" fill="#222"/>
<path d="M70.2 530.2V525.2H97.1V530.2" fill="none" stroke="#222" stroke-width="1.25"/>
<circle cx="83.70" cy="520.4" r="1.3" fill="#222"/>
<text x="194.2" y="420.4" font-size="11.5" text-anchor="start" font-weight="bold" fill="#000" >H</text>
<path d="M243.75 506.25C243.55 504.80 242.65 506.33 245.00 503.75C247.35 501.17 246.83 501.82 250.80 498.50C254.77 495.18 252.80 496.63 256.90 493.80C261.00 490.97 258.47 492.30 263.10 490.00C267.73 487.70 265.17 488.70 270.80 486.90C276.43 485.10 273.33 485.87 280.00 484.60C286.67 483.33 284.63 484.37 290.80 483.10C296.97 481.83 293.90 482.33 298.50 480.80C303.10 479.27 300.50 479.80 304.60 478.50C308.70 477.20 307.47 477.63 310.80 476.90C314.13 476.17 311.80 475.53 314.60 476.30C317.40 477.07 316.50 477.07 319.20 479.20C321.90 481.33 320.00 480.00 322.70 482.70C325.40 485.40 323.83 484.23 327.30 487.30C330.77 490.37 328.87 489.00 333.10 491.90C337.33 494.80 335.00 493.70 340.00 496.00C345.00 498.30 342.70 497.27 348.10 498.80C353.50 500.33 351.60 499.43 356.20 500.60C360.80 501.77 358.83 500.97 361.90 502.30C364.97 503.63 363.87 502.67 365.40 504.60C366.93 506.53 366.50 505.40 366.50 508.10C366.50 510.80 366.17 509.63 365.40 512.70C364.63 515.77 365.37 513.83 364.20 517.30C363.03 520.77 363.80 519.27 361.90 523.10C360.00 526.93 361.63 525.33 358.50 528.80C355.37 532.27 356.30 530.17 352.50 533.50C348.70 536.83 350.23 535.23 347.10 538.80C343.97 542.37 344.43 540.13 343.10 544.20C341.77 548.27 342.90 546.50 343.10 551.00C343.30 555.50 343.70 553.67 343.70 557.70C343.70 561.73 344.20 560.87 343.10 563.10C342.00 565.33 343.57 564.40 340.40 564.40C337.23 564.40 338.10 564.43 333.60 563.10C329.10 561.77 332.27 562.20 326.90 560.40C321.53 558.60 323.77 559.17 317.50 557.70C311.23 556.23 314.20 555.93 308.10 556.00C302.00 556.07 304.87 556.37 299.20 557.90C293.53 559.43 296.03 558.80 291.10 560.60C286.17 562.40 288.43 561.73 284.40 563.30C280.37 564.87 282.37 564.63 279.00 565.30C275.63 565.97 276.97 566.43 274.30 565.30C271.63 564.17 273.00 564.37 271.00 561.90C269.00 559.43 270.10 561.03 268.30 557.90C266.50 554.77 267.87 555.20 265.60 552.50C263.33 549.80 264.63 550.93 261.50 549.80C258.37 548.67 260.67 549.33 256.20 549.10C251.73 548.87 252.60 549.17 248.10 549.10C243.60 549.03 244.13 549.87 242.70 548.90C241.27 547.93 242.40 548.67 243.80 546.20C245.20 543.73 246.00 543.83 246.90 541.50C247.80 539.17 248.30 540.87 246.50 539.20C244.70 537.53 245.47 538.17 241.50 536.50C237.53 534.83 237.93 536.27 234.60 534.20C231.27 532.13 231.37 532.53 231.50 530.30C231.63 528.07 230.92 530.10 235.00 527.50C239.08 524.90 238.33 526.03 243.75 522.50C249.17 518.97 248.33 519.60 251.25 516.90C254.17 514.20 252.92 516.28 252.50 514.40C252.08 512.52 252.30 513.35 250.00 511.25C247.70 509.15 247.68 509.77 245.60 508.10C243.52 506.43 243.95 507.70 243.75 506.25Z" fill="url(#cellg)" stroke="#cc772c" stroke-width="1.45" stroke-linejoin="round"/>
<ellipse cx="279.9" cy="524.1" rx="18.9" ry="21.9" fill="url(#nuc)" stroke="#85705a" stroke-width="0.6"/>
<text x="282.15" y="524.0" font-size="7.7" text-anchor="middle" font-weight="normal" fill="#111" stroke="#111" stroke-width="0.25" >NF-κB</text>
<line x1="266.0" y1="532.0" x2="299.2" y2="532.0" stroke="#111" stroke-width="1.4" />
<path d="M272.1 532V526.3H281" fill="none" stroke="#111" stroke-width="1.15"/>
<path d="M284.6 526.3L280.4 524.4V528.2Z" fill="#111"/>
<path d="M294.9 526V520.5" stroke="#111" stroke-width="1.5"/>
<path d="M294.9 517.1L292.8 521.1H297Z" fill="#111"/>
<ellipse cx="248.2" cy="496.2" rx="5.9" ry="3.9" fill="#4a6ec8" transform="rotate(8 248.2 496.2)"/>
<path d="M263.4 493.5 L262.6 497.7" fill="none" stroke="#7a8aa8" stroke-width="0.7"/>
<path d="M248 507.3 L255.7 505.4" fill="none" stroke="#6a7fa8" stroke-width="0.9"/>
<path d="M255.7 506.2 L266.5 513.2" fill="none" stroke="#7d5f4a" stroke-width="1.0"/>
<ellipse cx="284.6" cy="476.5" rx="6.0" ry="4.6" fill="#b4434b"/>
<path d="M274.1 479.6 Q284 485.5 294 478.8 L302 467.8" fill="none" stroke="#c0393f" stroke-width="0.9"/>
<line x1="281.0" y1="510.9" x2="278.06" y2="474.99" stroke="#111" stroke-width="1.35"/>
<path d="M277.70 470.60L280.05 474.82L276.07 475.15Z" fill="#111"/>
<line x1="283.8" y1="510.9" x2="297.17" y2="485.20" stroke="#111" stroke-width="1.35"/>
<path d="M299.20 481.30L298.94 486.13L295.39 484.28Z" fill="#111"/>
<line x1="302.2" y1="524.6" x2="358.71" y2="481.08" stroke="#111" stroke-width="1.35"/>
<path d="M362.20 478.40L359.93 482.67L357.49 479.50Z" fill="#111"/>
<line x1="302.2" y1="524.6" x2="357.83" y2="518.02" stroke="#111" stroke-width="1.35"/>
<path d="M362.20 517.50L358.07 520.00L357.60 516.03Z" fill="#111"/>
<line x1="302.2" y1="524.6" x2="338.67" y2="543.02" stroke="#111" stroke-width="1.35"/>
<path d="M342.60 545.00L337.77 544.80L339.57 541.23Z" fill="#111"/>
<line x1="287.1" y1="465.1" x2="317.65" y2="450.14" stroke="#111" stroke-width="1.35"/>
<path d="M321.60 448.20L318.53 451.93L316.77 448.34Z" fill="#111"/>
<line x1="322.7" y1="440.0" x2="322.70" y2="452.30" stroke="#111" stroke-width="1.35"/>
<path d="M322.70 456.70L320.70 452.30L324.70 452.30Z" fill="#111"/>
<line x1="376.3" y1="474.5" x2="388.60" y2="474.50" stroke="#111" stroke-width="1.35"/>
<path d="M393.00 474.50L388.60 476.50L388.60 472.50Z" fill="#111"/>
<line x1="401.0" y1="481.5" x2="401.00" y2="513.00" stroke="#111" stroke-width="1.35"/>
<path d="M401.00 517.40L399.00 513.00L403.00 513.00Z" fill="#111"/>
<line x1="391.7" y1="517.9" x2="406.00" y2="517.90" stroke="#111" stroke-width="1.35"/>
<path d="M410.40 517.90L406.00 519.90L406.00 515.90Z" fill="#111"/>
<line x1="317.4" y1="468.7" x2="286.56" y2="513.70" stroke="#c4452c" stroke-width="1.3"/>
<path d="M284.30 517.00L284.99 512.63L288.13 514.77Z" fill="#c4452c"/>
<line x1="341.2" y1="461.9" x2="376.73" y2="471.37" stroke="#b3332d" stroke-width="1.25"/>
<path d="M380.60 472.40L376.25 473.21L377.22 469.53Z" fill="#b3332d"/>
<text x="326.65" y="438.3" font-size="7.6" text-anchor="middle" font-weight="normal" fill="#141414" stroke="#141414" stroke-width="0.25" >plasminogen</text>
<text x="323.85" y="464.8" font-size="7.6" text-anchor="middle" font-weight="normal" fill="#141414" stroke="#141414" stroke-width="0.25" >plasmin</text>
<text x="278.8" y="470.4" font-size="7.6" text-anchor="middle" font-weight="normal" fill="#141414" stroke="#141414" stroke-width="0.25" >uPA</text>
<text x="298.65" y="477.6" font-size="7.6" text-anchor="middle" font-weight="normal" fill="#141414" stroke="#141414" stroke-width="0.25" >uPAR</text>
<text x="357.55" y="477.7" font-size="7.6" text-anchor="middle" font-weight="normal" fill="#141414" stroke="#141414" stroke-width="0.25" >pro MMP-9</text>
<text x="418.85" y="477.7" font-size="7.55" text-anchor="middle" font-weight="normal" fill="#141414" stroke="#141414" stroke-width="0.25" >active MMP-9</text>
<text x="231.7" y="491.2" font-size="7.5" text-anchor="middle" font-weight="normal" fill="#141414" stroke="#141414" stroke-width="0.25" >CpG-ODN</text>
<text x="263.35" y="503.8" font-size="7.3" text-anchor="middle" font-weight="normal" fill="#141414" stroke="#141414" stroke-width="0.25" >TLR9</text>
<text x="377.3" y="520.4" font-size="7.55" text-anchor="middle" font-weight="normal" fill="#141414" stroke="#141414" stroke-width="0.25" >mTNFα</text>
<text x="423.0" y="520.4" font-size="7.55" text-anchor="middle" font-weight="normal" fill="#141414" stroke="#141414" stroke-width="0.25" >sTNFα</text>
<text x="356.2" y="550.3" font-size="7.6" text-anchor="middle" font-weight="normal" fill="#141414" stroke="#141414" stroke-width="0.25" >CCL2</text>
<text x="285.5" y="573.4" font-size="7.5" text-anchor="middle" font-weight="normal" fill="#141414" stroke="#141414" stroke-width="0.25" >Monocyte / macrophage</text>
<rect x="400.6" y="524.7" width="91.3" height="22.3" fill="none" stroke="#222" stroke-width="1.3"/>
<rect x="346.8" y="554.2" width="95.5" height="19.6" fill="none" stroke="#222" stroke-width="1.3"/>
<text x="446.6" y="533.8" font-size="7.5" text-anchor="middle" font-weight="normal" fill="#ab3e3f" stroke="#ab3e3f" stroke-width="0.25" >Inflammatory cytokines</text>
<text x="446.5" y="542.7" font-size="7.6" text-anchor="middle" font-weight="normal" fill="#ab3e3f" stroke="#ab3e3f" stroke-width="0.25" >production</text>
<text x="394.6" y="561.3" font-size="7.6" text-anchor="middle" font-weight="normal" fill="#ab3e3f" stroke="#ab3e3f" stroke-width="0.25" >Monocyte/macrophage</text>
<text x="394.6" y="570.5" font-size="7.6" text-anchor="middle" font-weight="normal" fill="#ab3e3f" stroke="#ab3e3f" stroke-width="0.25" >migration</text>
<path d="M0.5 0.5H518.8V638.8H0.5Z" fill="none" stroke="#000" stroke-width="1.2"/>
<rect x="518.5" y="0" width="1.5" height="640" fill="#000"/>
<rect x="0" y="638.5" width="520" height="1.5" fill="#000"/>
</svg>
</body></html>
